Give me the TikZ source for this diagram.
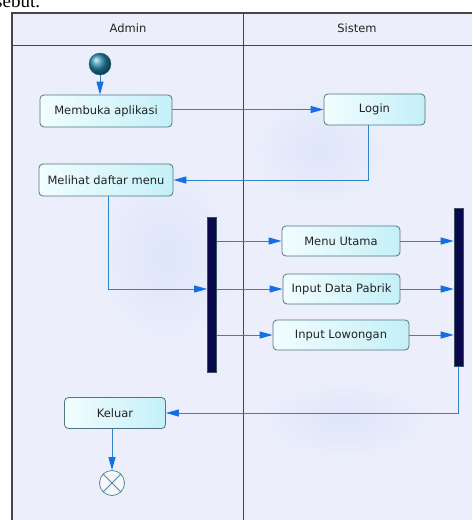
\documentclass[tikz,border=0pt]{standalone}
\usepackage{fontspec}
\setmainfont{DejaVu Sans}
\newfontfamily\serifx{Liberation Serif}
\usetikzlibrary{arrows.meta}
\definecolor{bg}{RGB}{236,238,251}
\definecolor{blob}{RGB}{222,230,249}
\definecolor{framec}{RGB}{70,70,70}
\definecolor{boxborder}{RGB}{80,118,128}
\definecolor{boxl}{RGB}{242,253,255}
\definecolor{boxr}{RGB}{196,240,248}
\definecolor{txt}{RGB}{35,35,35}
\definecolor{linec}{RGB}{45,130,200}
\definecolor{tipc}{RGB}{20,110,230}
\definecolor{barfill}{RGB}{8,8,75}
\definecolor{bardraw}{RGB}{60,80,95}
\definecolor{finc}{RGB}{80,140,150}
\definecolor{inic}{RGB}{40,140,175}
\begin{document}
\begin{tikzpicture}[x=1pt,y=-1pt,
  act/.style={draw=boxborder, line width=0.8pt, rounded corners=4pt,
    left color=boxl, right color=boxr, text=txt,
    font=\fontsize{11.5}{13}\selectfont, minimum height=31pt, inner sep=0pt},
  lane/.style={text=txt, font=\fontsize{11.5}{13}\selectfont, inner sep=0pt},
  bar/.style={draw=bardraw, line width=0.6pt, fill=barfill, minimum width=9pt, inner sep=0pt},
  flow/.style={draw=linec, line width=1pt, -{Triangle[length=13pt,width=7pt,color=tipc]}}]
\useasboundingbox (0,0) rectangle (472,520);
\fill[white] (0,0) rectangle (472,520);
\begin{scope}
\clip (0,0) rectangle (472,520);
\node[anchor=base west, inner sep=0pt, font=\serifx\fontsize{19}{21}\selectfont] (top) at (-5,7) {sebut.};
\end{scope}
% swimlanes
\fill[bg] (12,13) rectangle (472,520);
\shade[inner color=blob, outer color=bg] (165,255) ellipse (72 and 95);
\shade[inner color=blob, outer color=bg] (320,150) ellipse (72 and 60);
\shade[inner color=blob, outer color=bg] (345,420) ellipse (90 and 40);
\draw[framec, line width=1.3pt] (12,520) -- (12,13) -- (472,13);
\draw[framec, line width=0.8pt] (12,45) -- (472,45);
\draw[framec, line width=0.8pt] (243,13) -- (243,520);
\node[lane] (hA) at (128,28) {Admin};
\node[lane] (hS) at (357,28) {Sistem};
% nodes
\node[circle, minimum size=22pt, inner sep=0pt, draw=inic!70!black, line width=0.4pt, shading=ball, ball color=inic] (ini) at (100,64) {};
\node[act, minimum width=132pt, minimum height=32pt] (mem) at (106,111) {Membuka aplikasi};
\node[act, minimum width=101pt] (login) at (374.5,109.5) {Login};
\node[act, minimum width=134pt, minimum height=32pt] (mel) at (106,180) {Melihat daftar menu};
\node[act, minimum width=118pt, minimum height=30pt] (menu) at (341,241) {Menu Utama};
\node[act, minimum width=117pt, minimum height=30pt] (pab) at (341.5,289) {Input Data Pabrik};
\node[act, minimum width=136pt, minimum height=30pt] (low) at (341,335) {Input Lowongan};
\node[act, minimum width=101pt] (kel) at (115,413) {Keluar};
\node[bar, minimum height=155pt] (b1) at (212,294.5) {};
\node[bar, minimum height=158pt] (b2) at (458.5,287) {};
\node[circle, draw=finc, line width=0.8pt, fill=white!60!bg, minimum size=25pt, inner sep=0pt] (fin) at (112,483) {};
\draw[finc, line width=0.8pt] (fin.45) -- (fin.225) (fin.135) -- (fin.315);
% connectors
\draw[flow] (ini) -- (ini |- mem.north);
\draw[flow] (mem.east |- login) -- (login.west);
\draw[flow] ([xshift=-6.5pt]login.south) |- (mel.east);
\draw[flow] ([xshift=2pt]mel.south) |- (b1.west |- pab.west);
\draw[flow] (b1.east |- menu.west) -- (menu.west);
\draw[flow] (b1.east |- pab.west) -- (pab.west);
\draw[flow] (b1.east |- low.west) -- (low.west);
\draw[flow] (menu.east) -- (menu.east -| b2.west);
\draw[flow] (pab.east) -- (pab.east -| b2.west);
\draw[flow] (low.east) -- (low.east -| b2.west);
\draw[flow] ([xshift=-0.5pt]b2.south) |- (kel.east);
\draw[flow] (kel.south -| fin) -- (fin.north);
\end{tikzpicture}
\end{document}
